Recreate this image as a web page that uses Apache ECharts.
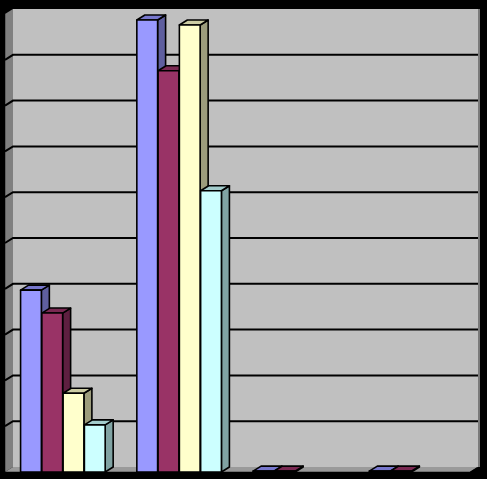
<!DOCTYPE html>
<html>
<head>
<meta charset="utf-8">
<script src="https://cdn.jsdelivr.net/npm/echarts@6/dist/echarts.min.js"></script>
<style>html,body{margin:0;padding:0;background:#000;}#c{width:487px;height:479px;}</style>
</head>
<body>
<div id="c"></div>
<script>
const categories = ['1', '2', '3', '4'];
const seriesBlue   = [3.97, 9.87, 0.02, 0.02];
const seriesMaroon = [3.47, 8.76, 0.02, 0.02];
const seriesYellow = [1.72, 9.76, null, null];
const seriesCyan   = [1.03, 6.14, null, null];
const yTicks = [0, 1, 2, 3, 4, 5, 6, 7, 8, 9, 10];

const DX = 8, DY = -5;

const palettes = [
  {front: '#9999FF', side: '#5F5F9F', top: '#7777CC'},
  {front: '#993366', side: '#5E1F40', top: '#7A2952'},
  {front: '#FFFFCC', side: '#9C9C7C', top: '#CCCCA3'},
  {front: '#CCFFFF', side: '#80A3A3', top: '#A3CCCC'}
];

function barRenderer(idx) {
  const pal = palettes[idx];
  return function (params, api) {
    const v = api.value(1);
    if (v == null || isNaN(v)) return;
    const cat = api.value(0);
    const top = api.coord([cat, v]);
    const base = api.coord([cat, 0]);
    const band = api.size([1, 0])[0];
    const slot = band * 0.183;
    const x0 = top[0] - slot * 2 + idx * slot;
    const w = slot - 0.5;
    const yT = top[1], yB = base[1];
    const st = {stroke: '#000', lineWidth: 1.6, lineJoin: 'round'};
    return {
      type: 'group',
      children: [
        {type: 'polygon', shape: {points: [[x0 + w, yT], [x0 + w + DX, yT + DY], [x0 + w + DX, yB + DY], [x0 + w, yB]]},
         style: Object.assign({fill: pal.side}, st)},
        {type: 'polygon', shape: {points: [[x0, yT], [x0 + DX, yT + DY], [x0 + w + DX, yT + DY], [x0 + w, yT]]},
         style: Object.assign({fill: pal.top}, st)},
        {type: 'rect', shape: {x: x0, y: yT, width: w, height: Math.max(yB - yT, 0)},
         style: Object.assign({fill: pal.front}, st)}
      ]
    };
  };
}

function wallRenderer(params, api) {
  const cs = params.coordSys;
  const x = cs.x, w = cs.width;
  const y0 = api.coord([0, 0])[1];
  const y10 = api.coord([0, yTicks[yTicks.length - 1]])[1];
  const children = [];
  // back wall
  children.push({type: 'rect', shape: {x: x + DX, y: y10 + DY, width: w, height: y0 - y10},
    style: {fill: '#C0C0C0'}});
  // right edge strip
  children.push({type: 'rect', shape: {x: x + w + DX, y: y10 + DY, width: 2, height: y0 - y10},
    style: {fill: '#7A7A7A'}});
  // side wall
  children.push({type: 'polygon', shape: {points: [[x, y0], [x, y10], [x + DX, y10 + DY], [x + DX, y0 + DY]]},
    style: {fill: '#808080'}});
  // gridlines
  yTicks.forEach(function (t) {
    if (t === 0 || t === yTicks[yTicks.length - 1]) return;
    const y = api.coord([0, t])[1];
    children.push({type: 'polyline', shape: {points: [[x, y], [x + DX, y + DY], [x + w + DX, y + DY]]},
      style: {stroke: '#000', lineWidth: 2, fill: null}});
  });
  // floor
  children.push({type: 'polygon', shape: {points: [[x, y0], [x + DX, y0 + DY], [x + w + DX, y0 + DY], [x + w, y0]]},
    style: {fill: '#9A9A9A'}});
  // floor front edge + axis line
  children.push({type: 'polyline', shape: {points: [[x - 1, y10], [x - 1, y0 + 1], [x + w, y0 + 1], [x + w + DX, y0 + 1 + DY]]},
    style: {stroke: '#000', lineWidth: 2.5, fill: null}});
  return {type: 'group', children: children};
}

const allSeries = [seriesBlue, seriesMaroon, seriesYellow, seriesCyan];

const option = {
  backgroundColor: '#000',
  animation: false,
  grid: {left: 5, right: 17, top: 14, bottom: 7},
  xAxis: {type: 'category', data: categories, show: false},
  yAxis: {type: 'value', min: 0, max: 10, interval: 1, show: false},
  series: [
    {type: 'custom', renderItem: wallRenderer, data: [[0, 0]], z: 1, silent: true}
  ].concat(allSeries.map(function (arr, i) {
    return {
      type: 'custom',
      z: 2,
      renderItem: barRenderer(i),
      data: categories.map(function (c, j) { return [j, arr[j]]; })
    };
  }))
};

const chart = echarts.init(document.getElementById('c'));
chart.setOption(option);
</script>
</body>
</html>
